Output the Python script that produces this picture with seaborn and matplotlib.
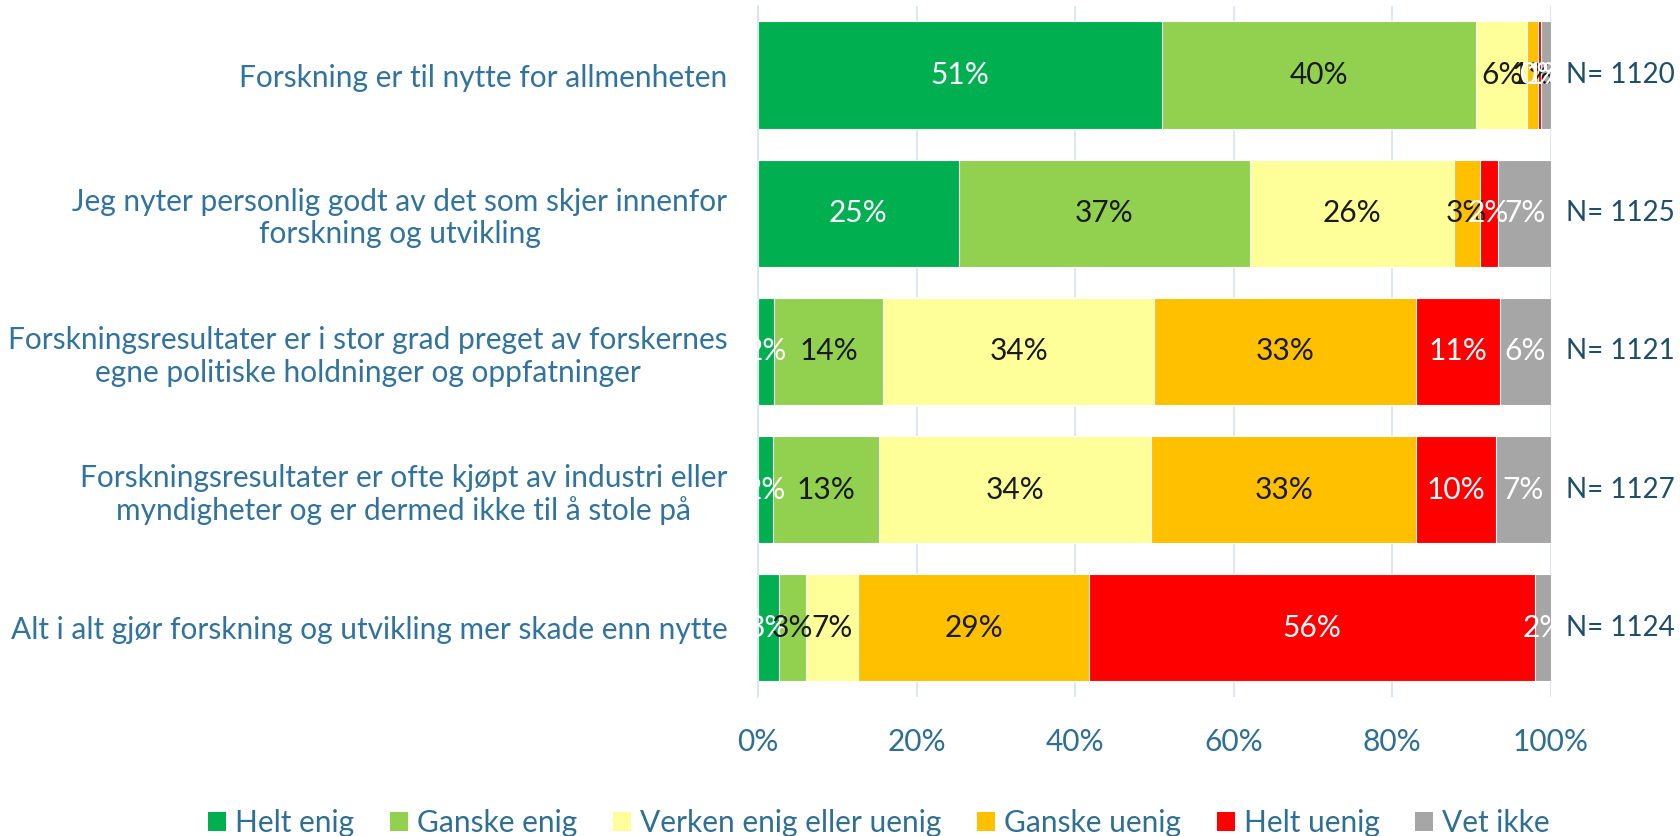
import numpy as np
import pandas as pd
import matplotlib
matplotlib.use("Agg")
import matplotlib.pyplot as plt
from matplotlib.patches import Patch
import seaborn as sns

questions = [
    "Forskning er til nytte for allmenheten",
    "Jeg nyter personlig godt av det som skjer innenfor\nforskning og utvikling",
    "Forskningsresultater er i stor grad preget av forskernes\negne politiske holdninger og oppfatninger",
    "Forskningsresultater er ofte kjøpt av industri eller\nmyndigheter og er dermed ikke til å stole på",
    "Alt i alt gjør forskning og utvikling mer skade enn nytte",
]
categories = ["Helt enig", "Ganske enig", "Verken enig eller uenig",
              "Ganske uenig", "Helt uenig", "Vet ikke"]
colors = ["#00B050", "#92D050", "#FFFF99", "#FFC000", "#FF0000", "#A6A6A6"]
text_colors = ["white", "#1a1a1a", "#1a1a1a", "#1a1a1a", "white", "white"]

helt_enig = [50.9, 25.3, 2.0, 1.9, 2.6]
ganske_enig = [39.7, 36.8, 13.8, 13.4, 3.4]
verken = [6.4, 25.7, 34.2, 34.3, 6.6]
ganske_uenig = [1.4, 3.2, 33.0, 33.4, 29.2]
helt_uenig = [0.4, 2.3, 10.6, 10.1, 56.2]
vet_ikke = [1.2, 6.9, 6.4, 6.9, 2.0]
n_resp = [1120, 1125, 1121, 1127, 1124]

df = pd.DataFrame(
    np.column_stack([helt_enig, ganske_enig, verken, ganske_uenig, helt_uenig, vet_ikke]),
    index=questions, columns=categories)
cum = df.cumsum(axis=1)

sns.set_theme(style="white")
plt.rcParams["font.family"] = ["Lato", "DejaVu Sans"]

fs = 21.5
label_col = "#31739C"
fig = plt.figure(figsize=(16.81, 8.36), dpi=100)
ax = fig.add_axes([0.4509, 0.1663, 0.4717, 0.8266])

# stacked bars: draw cumulative totals from the back
for cat, col in reversed(list(zip(categories, colors))):
    sns.barplot(x=cum[cat].values, y=questions, color=col, orient="h",
                width=0.775, saturation=1, edgecolor="white", linewidth=0.8, ax=ax)

for j, cat in enumerate(categories):
    for i, q in enumerate(questions):
        v = df.loc[q, cat]
        ax.text(cum.loc[q, cat] - v / 2, i, f"{v:.0f}%", ha="center", va="center",
                color=text_colors[j], fontsize=fs)

for i, n in enumerate(n_resp):
    ax.text(101.9, i, f"N= {n}", ha="left", va="center", color="#1F4E6B",
            fontsize=20, clip_on=False)

ax.set_xlim(0, 100)
ax.set_xticks(range(0, 101, 20))
ax.set_xticklabels([f"{t}%" for t in range(0, 101, 20)])
ax.set_xlabel("")
ax.set_ylabel("")
ax.grid(axis="x", color="#D6E4EF", linewidth=1.2)
ax.set_axisbelow(True)
for s in ["top", "right", "bottom"]:
    ax.spines[s].set_visible(False)
ax.spines["left"].set_color("#D6E4EF")
ax.spines["left"].set_linewidth(1.2)
ax.tick_params(axis="x", length=0, pad=22, labelsize=fs, labelcolor="#2F6F94")
ax.tick_params(axis="y", length=0, pad=22, labelsize=fs, labelcolor=label_col)
for t in ax.get_yticklabels():
    t.set_multialignment("center")

handles = [Patch(facecolor=c, edgecolor="none") for c in colors]
fig.legend(handles, categories, loc="center", bbox_to_anchor=(0.523, 0.016), ncol=6,
           frameon=False, handlelength=0.6, handleheight=0.6, handletextpad=0.3,
           columnspacing=1.2, fontsize=fs, labelcolor="#2F6F94")

fig.savefig("out.png", dpi=100)
